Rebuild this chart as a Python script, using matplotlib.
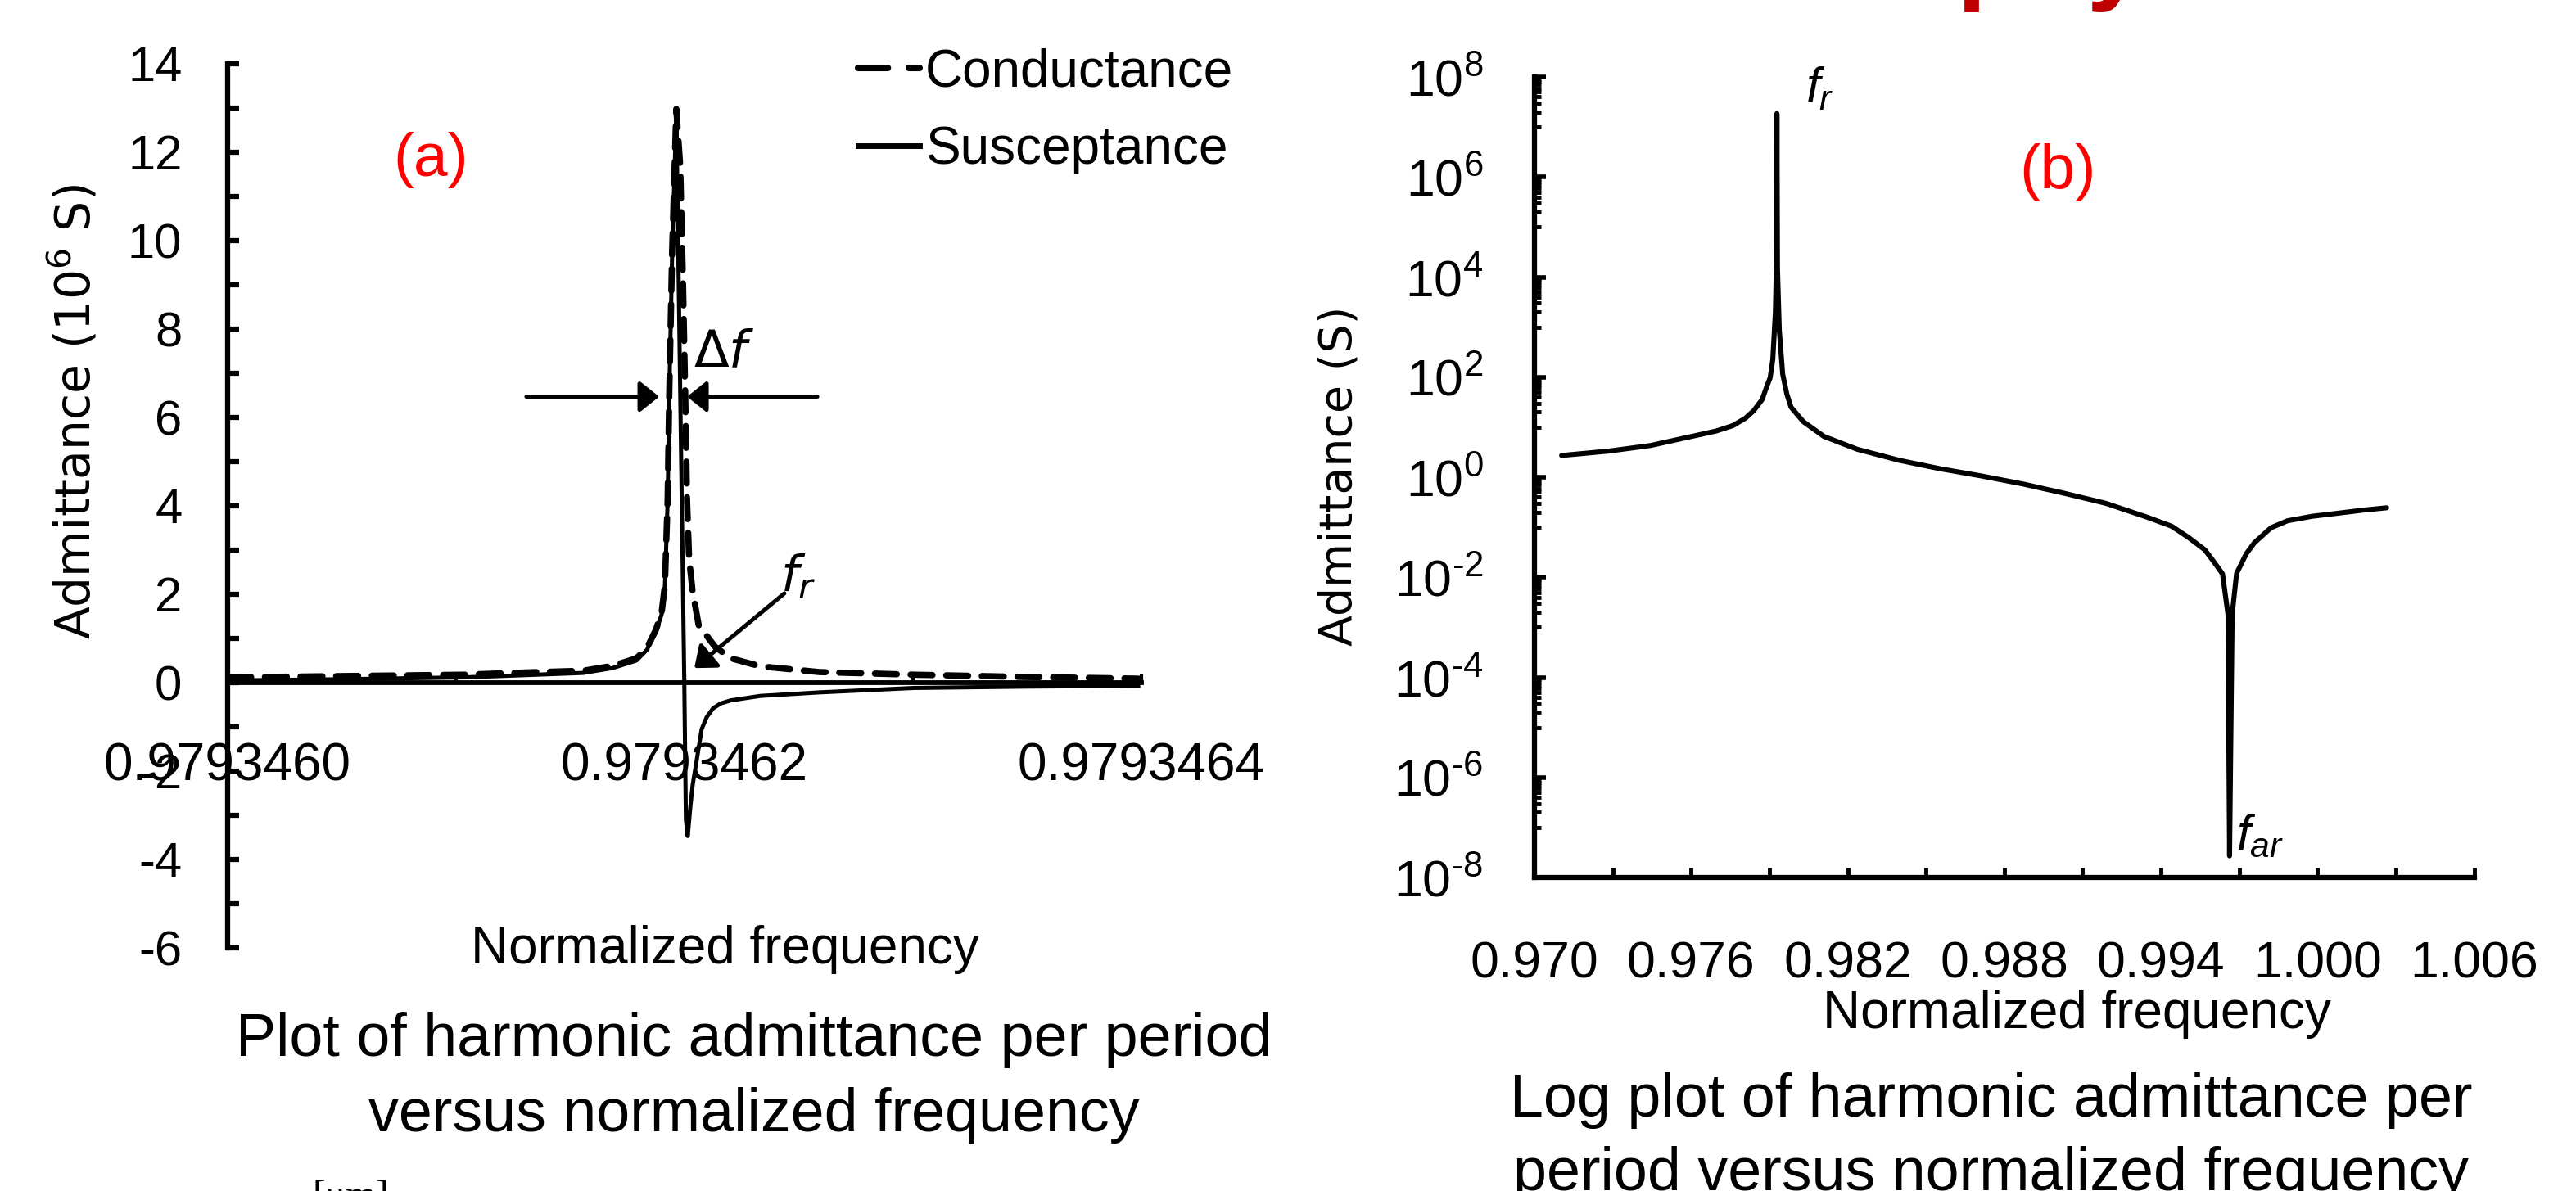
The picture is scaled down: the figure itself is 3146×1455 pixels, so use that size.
import matplotlib
matplotlib.use('Agg')
import matplotlib.pyplot as plt
from matplotlib.ticker import FixedLocator, FixedFormatter, FormatStrFormatter, NullFormatter
from matplotlib.lines import Line2D

plt.rcParams['font.family'] = ['Liberation Sans', 'DejaVu Sans']
plt.rcParams['axes.unicode_minus'] = False
plt.rcParams['mathtext.fontset'] = 'custom'
plt.rcParams['mathtext.rm'] = 'Liberation Sans'
plt.rcParams['mathtext.it'] = 'Liberation Sans:italic'

# --- (a) harmonic admittance per period, 10^6 S ---
freq_g = [0.9793460007, 0.9793460523, 0.9793461039, 0.9793461298, 0.9793461556,
          0.9793461685, 0.9793461789, 0.9793461835, 0.9793461875, 0.9793461900,
          0.9793461914, 0.9793461926, 0.9793461933, 0.9793461946, 0.9793461964,
          0.9793461981, 0.9793461994, 0.9793462003, 0.9793462011, 0.9793462020,
          0.9793462035, 0.9793462062, 0.9793462134, 0.9793462203, 0.9793462332,
          0.9793462590, 0.9793462796, 0.9793463004, 0.9793463484, 0.9793463986]
conductance = [0.12, 0.15, 0.18, 0.23, 0.27,
               0.38, 0.55, 0.78, 1.20, 1.60,
               2.20, 4.13, 6.50, 9.81, 12.98,
               11.7, 8.86, 6.50, 4.13, 2.81,
               2.08, 1.30, 0.81, 0.55, 0.37,
               0.24, 0.21, 0.18, 0.13, 0.09]

freq_b = [0.9793460007, 0.9793460523, 0.9793461039, 0.9793461298, 0.9793461556,
          0.9793461685, 0.9793461789, 0.9793461835, 0.9793461875, 0.9793461900,
          0.9793461914, 0.9793461926, 0.9793461933, 0.9793461946, 0.9793461964,
          0.9793461999, 0.9793462006, 0.9793462014, 0.9793462026, 0.9793462036,
          0.9793462050, 0.9793462075, 0.9793462097, 0.9793462125, 0.9793462158,
          0.9793462203, 0.9793462332, 0.9793462590, 0.9793463004, 0.9793463484,
          0.9793463986]
susceptance = [0.05, 0.08, 0.12, 0.17, 0.22,
               0.33, 0.50, 0.74, 1.15, 1.55,
               2.15, 4.10, 6.45, 9.75, 12.90,
               0.0, -3.10, -3.47, -2.78, -2.30,
               -1.86, -1.05, -0.78, -0.58, -0.47,
               -0.40, -0.30, -0.22, -0.12, -0.09,
               -0.07]

xticks_a = [0.9793460, 0.9793462, 0.9793464]
xminor_a = [0.9793461, 0.9793463]
yticks_a = list(range(-6, 15, 2))
yminor_a = list(range(-5, 14, 2))

# annotation anchors in data units of (a)
dfreq_left = (0.9793461308, 0.9793461889)
dfreq_right = (0.9793462581, 0.9793462011)
dfreq_level = 6.47
fr_tip = (0.9793462043, 0.33)
fr_tail = (0.9793462437, 2.02)

# --- (b) log plot of admittance, S ---
freq_log = [0.97104, 0.97285, 0.97444, 0.97602, 0.97697, 0.97761, 0.97808, 0.97840,
            0.97872, 0.97887, 0.97903, 0.97913, 0.97923, 0.97927, 0.97929, 0.97931,
            0.97938, 0.97951, 0.97967, 0.97983, 0.98030, 0.98109, 0.98236, 0.98395,
            0.98553, 0.98712, 0.98871, 0.99029, 0.99188, 0.99346, 0.99441, 0.99505,
            0.99568, 0.99600, 0.99636, 0.99657, 0.99663, 0.99673, 0.99690, 0.99727,
            0.99758, 0.99822, 0.99885, 0.99980, 1.00075, 1.00171, 1.00265]
admittance_log = [2.72, 3.33, 4.30, 6.53, 8.41, 10.8, 15.1, 21.4,
                  35.5, 58.9, 97.7, 224, 2.0e3, 2.0e4, 1.86e7, 1.5e4,
                  871, 115, 45.7, 25.1, 12.9, 6.53, 3.63, 2.19,
                  1.48, 1.06, 0.733, 0.479, 0.302, 0.160, 0.105, 0.063,
                  0.0355, 0.0214, 0.0117, 1.8e-3, 2.7e-8, 1.8e-3, 0.012, 0.0295,
                  0.049, 0.098, 0.135, 0.166, 0.19, 0.219, 0.245]

xticks_b = [0.970, 0.976, 0.982, 0.988, 0.994, 1.000, 1.006]
xminor_b = [0.973, 0.979, 0.985, 0.991, 0.997, 1.003]
decades_b = list(range(-8, 9, 2))

W, H = 3146, 1455
fig = plt.figure(figsize=(W / 100, H / 100), dpi=100)
fig.patch.set_facecolor('white')


def fx(px):
    return px / W


def fy(py):
    return 1 - py / H


# ---------------- (a) ----------------
ax1 = fig.add_axes([fx(278), fy(1158), (1394 - 278) / W, (1158 - 78) / H])
ax1.plot(freq_b, susceptance, color='black', lw=3.6, solid_joinstyle='round')
ax1.plot(freq_g, conductance, color='black', lw=5.5, dashes=(3.5, 2.2),
         dash_capstyle='round')
ax1.set_xlim(0.9793460, 0.9793464)
ax1.set_ylim(-6, 14)

for s in ['top', 'right']:
    ax1.spines[s].set_visible(False)
ax1.spines['bottom'].set_position(('data', 0))
ax1.spines['bottom'].set_linewidth(4.2)
ax1.spines['left'].set_linewidth(4.5)

ax1.xaxis.set_major_locator(FixedLocator(xticks_a))
ax1.xaxis.set_minor_locator(FixedLocator(xminor_a))
ax1.xaxis.set_major_formatter(FormatStrFormatter('%.7f'))
ax1.yaxis.set_major_locator(FixedLocator(yticks_a))
ax1.yaxis.set_minor_locator(FixedLocator(yminor_a))
ax1.tick_params(axis='x', which='both', direction='in', length=7, width=3,
                labelsize=46, pad=52)
ax1.tick_params(axis='y', which='both', direction='in', length=10, width=4.5,
                labelsize=43, pad=40)

ax1.set_xlabel('Normalized frequency', fontsize=46, va='baseline')
ax1.xaxis.set_label_coords((885 - 278) / 1116, (1158 - 1177) / 1080)
ax1.set_ylabel(r'Admittance (10$^6$ S)', fontsize=42, family='DejaVu Sans',
               va='center', math_fontfamily='dejavusans')
ax1.yaxis.set_label_coords((90 - 278) / 1116, (1158 - 503) / 1080)

arrow_kw = dict(arrowstyle='-|>,head_length=0.4,head_width=0.32', mutation_scale=36,
                lw=3.6, color='black', shrinkA=0, shrinkB=0)
ax1.annotate('', xy=(dfreq_left[1], dfreq_level), xytext=(dfreq_left[0], dfreq_level),
             arrowprops=arrow_kw)
ax1.annotate('', xy=(dfreq_right[1], dfreq_level), xytext=(dfreq_right[0], dfreq_level),
             arrowprops=arrow_kw)
ax1.annotate('', xy=fr_tip, xytext=fr_tail, arrowprops=arrow_kw)

fig.text(fx(884), fy(432), r'$\Delta f$', fontsize=45, ha='center', va='center',
         math_fontfamily='dejavusans')
fig.text(fx(975), fy(705), r'$f_r$', fontsize=44, ha='center', va='center',
         math_fontfamily='dejavusans')
fig.text(fx(526), fy(196), '(a)', fontsize=54, color='#FF0000', ha='center', va='center')

handles = [Line2D([], [], color='black', lw=5.8, dashes=(4.5, 3.2), dash_capstyle='round'),
           Line2D([], [], color='black', lw=5.0)]
fig.legend(handles, ['Conductance', 'Susceptance'], loc='upper left',
           bbox_to_anchor=(fx(1048), fy(58)), frameon=False, fontsize=46,
           handlelength=1.18, handletextpad=0.1, borderpad=0, borderaxespad=0,
           labelspacing=0.55)

# ---------------- (b) ----------------
ax2 = fig.add_axes([fx(1874), fy(1072), 1147.6 / W, 978 / H])
ax2.plot(freq_log, admittance_log, color='black', lw=4.4, solid_joinstyle='round',
         solid_capstyle='round')
ax2.set_yscale('log')
ax2.set_xlim(0.970, 1.006)
ax2.set_ylim(1e-8, 1e8)

for s in ['top', 'right']:
    ax2.spines[s].set_visible(False)
ax2.spines['bottom'].set_linewidth(4.5)
ax2.spines['left'].set_linewidth(4.5)

ax2.xaxis.set_major_locator(FixedLocator(xticks_b))
ax2.xaxis.set_minor_locator(FixedLocator(xminor_b))
ax2.xaxis.set_major_formatter(FormatStrFormatter('%.3f'))
ax2.yaxis.set_major_locator(FixedLocator([10.0 ** k for k in decades_b]))
ax2.yaxis.set_major_formatter(FixedFormatter(
    [rf'$10^{{{k}}}$' if k >= 0 else rf'$10^{{\text{{-}}{-k}}}$' for k in decades_b]))
ax2.yaxis.set_minor_locator(FixedLocator(
    [m * 10.0 ** k for k in range(-7, 8, 2) for m in range(1, 10)]))
ax2.yaxis.set_minor_formatter(NullFormatter())
ax2.tick_params(axis='x', which='both', direction='in', length=9, width=3.5,
                labelsize=45, pad=55)
ax2.tick_params(axis='y', which='major', direction='in', length=10, width=4,
                labelsize=45, pad=45)
ax2.tick_params(axis='y', which='minor', direction='in', length=6, width=3.5)

ax2.set_xlabel('Normalized frequency', fontsize=46, va='baseline')
ax2.xaxis.set_label_coords((2536 - 1874) / 1147.6, (1072 - 1256) / 978)
ax2.set_ylabel('Admittance (S)', fontsize=40, family='DejaVu Sans', va='center')
ax2.yaxis.set_label_coords((1636 - 1874) / 1147.6, (1072 - 581) / 978)

fig.text(fx(2222), fy(110), r'$f_r$', fontsize=44, ha='center', va='center')
fig.text(fx(2760), fy(1022), r'$f_{ar}$', fontsize=44, ha='center', va='center')
fig.text(fx(2513), fy(210), '(b)', fontsize=55, color='#FF0000', ha='center', va='center')

# ---------------- captions and slide leftovers ----------------
fig.text(fx(921), fy(1290), 'Plot of harmonic admittance per period', fontsize=53,
         ha='center', va='baseline')
fig.text(fx(921), fy(1382), 'versus normalized frequency', fontsize=53,
         ha='center', va='baseline')
fig.text(fx(2432), fy(1364), 'Log plot of harmonic admittance per', fontsize=53,
         ha='center', va='baseline')
fig.text(fx(2432), fy(1454), 'period versus normalized frequency', fontsize=53,
         ha='center', va='baseline')
fig.text(fx(428), fy(1442), '[\u03bcm]', fontsize=34, family='Liberation Serif',
         ha='center', va='top')
fig.text(fx(2389), fy(-12), 'phy', fontsize=94, fontweight='bold', color='#C00000',
         ha='left', va='baseline')

fig.savefig('out.png', dpi=100)
